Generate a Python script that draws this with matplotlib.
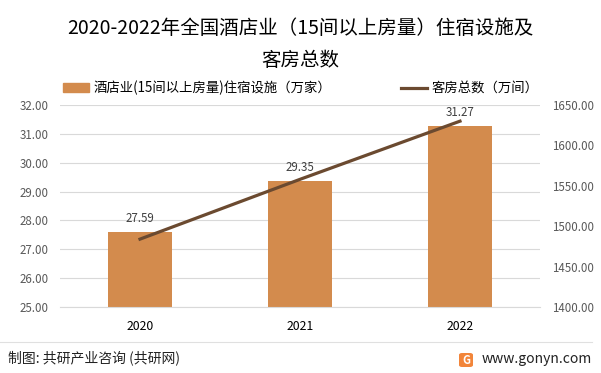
import matplotlib.pyplot as plt
from matplotlib.patches import Patch, FancyBboxPatch
from matplotlib.lines import Line2D

plt.rcParams['font.family'] = ['Noto Sans CJK SC', 'DejaVu Sans']

years = ['2020', '2021', '2022']
facilities = [27.59, 29.35, 31.27]   # 万家
rooms = [1484, 1558, 1630]           # 万间

bar_color = '#D38B4D'
line_color = '#6B4A30'
tick_color = '#595959'

fig = plt.figure(figsize=(6.01, 3.73), dpi=100)
ax = fig.add_axes([60 / 601, 1 - 307 / 373, 480 / 601, 202 / 373])
ax2 = ax.twinx()

x = list(range(len(years)))
ax.bar(x, facilities, width=0.4, color=bar_color, zorder=2)
for xi, v in zip(x, facilities):
    ax.text(xi, v + 0.25, f'{v:.2f}', ha='center', va='bottom', fontsize=8.3, color='#404040')

ax2.plot(x, rooms, color=line_color, linewidth=2.3, zorder=3)

ax.set_xlim(-0.5, 2.5)
ax.set_ylim(25, 32)
ax.set_yticks(range(25, 33))
ax.set_yticklabels([f'{v:.2f}' for v in range(25, 33)])
ax2.set_ylim(1400, 1650)
ax2.set_yticks(range(1400, 1651, 50))
ax2.set_yticklabels([f'{v:.2f}' for v in range(1400, 1651, 50)])
ax.set_xticks(x)
ax.set_xticklabels(years)

ax.grid(axis='y', color='#D9D9D9', linewidth=0.8, zorder=0)
ax.set_axisbelow(True)
for a in (ax, ax2):
    for s in a.spines.values():
        s.set_visible(False)
ax.spines['bottom'].set_visible(True)
ax.spines['bottom'].set_color('#D9D9D9')
ax.tick_params(axis='y', length=0, labelsize=8.3, labelcolor=tick_color, pad=8)
ax2.tick_params(axis='y', length=0, labelsize=8.3, labelcolor=tick_color, pad=9)
ax.tick_params(axis='x', length=0, labelsize=8.8, labelcolor='#000000', pad=9)

fig.text(0.5, 1 - 29 / 373, '2020-2022年全国酒店业（15间以上房量）住宿设施及',
         ha='center', va='center', fontsize=14, color='#000000')
fig.text(0.5, 1 - 60 / 373, '客房总数', ha='center', va='center', fontsize=14, color='#000000')

handles = [Patch(color=bar_color, label='酒店业(15间以上房量)住宿设施（万家）'),
           Line2D([0], [0], color=line_color, linewidth=2.3, label='客房总数（万间）')]
fig.legend(handles=handles, loc='center', bbox_to_anchor=(0.5, 1 - 88 / 373), ncol=2,
           frameon=False, fontsize=9.6, columnspacing=5.2, handlelength=2.0,
           handletextpad=0.3, handleheight=0.6)

fig.add_artist(Line2D([0, 592 / 601], [1 - 342 / 373] * 2, color='#E0E0E0', linewidth=0.8))
fig.text(8 / 601, 1 - 358 / 373, '制图: 共研产业咨询 (共研网)', ha='left', va='center',
         fontsize=10, color='#222222')
fig.text(592 / 601, 1 - 359 / 373, 'www.gonyn.com', ha='right', va='center',
         fontsize=10, color='#222222')
fig.add_artist(FancyBboxPatch((459 / 601, 1 - 367 / 373), 14 / 601, 14 / 373,
                              boxstyle='round,pad=0,rounding_size=0.005',
                              fc='#F2853A', ec='none', transform=fig.transFigure))
fig.text(466 / 601, 1 - 360 / 373, 'G', ha='center', va='center', fontsize=8,
         color='white', fontweight='bold')

fig.savefig('out.png', dpi=100)
